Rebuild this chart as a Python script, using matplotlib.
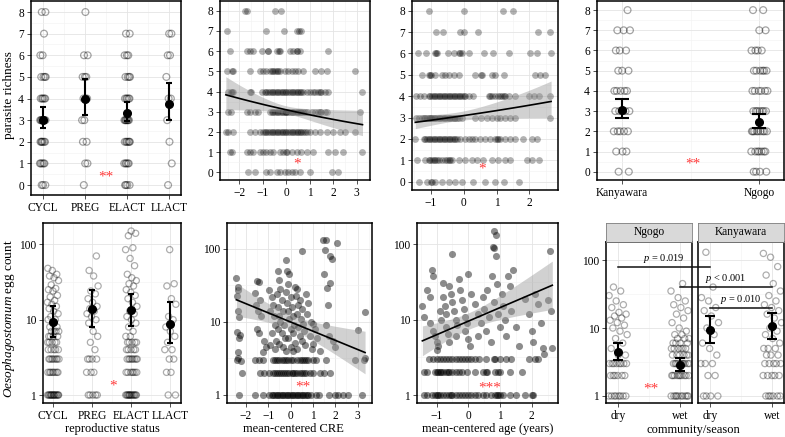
import numpy as np
import matplotlib
matplotlib.use('Agg')
import matplotlib.pyplot as plt
from matplotlib.lines import Line2D
from matplotlib.ticker import NullFormatter

plt.rcParams['font.family'] = ['Liberation Serif', 'DejaVu Serif']
plt.rcParams['mathtext.fontset'] = 'custom'
plt.rcParams['mathtext.rm'] = 'Liberation Serif'
plt.rcParams['mathtext.it'] = 'Liberation Serif:italic'

W, H = 785, 437

# ---------------- data ----------------
rich_levels = [0, 1, 2, 3, 4, 5, 6, 7, 8]
repro_cats = ['CYCL', 'PREG', 'ELACT', 'LLACT']
comm_cats = ['Kanyawara', 'Ngogo']
season_cats = ['dry', 'wet']

# samples at each richness level 0..8
rich_cycl = [3, 5, 6, 8, 5, 4, 2, 1, 2]
rich_preg = [1, 2, 2, 2, 3, 3, 2, 0, 1]
rich_elact = [4, 5, 6, 7, 5, 4, 3, 2, 0]
rich_llact = [1, 1, 1, 1, 2, 1, 2, 2, 0]
rich_kany = [2, 3, 5, 6, 5, 3, 3, 3, 1]
rich_ngogo = [4, 7, 9, 7, 6, 6, 4, 2, 2]

repro_rich_mean = [3.0, 4.0, 3.35, 3.75]
repro_rich_lo = [2.65, 3.25, 2.95, 3.0]
repro_rich_hi = [3.6, 4.9, 3.85, 4.7]
comm_rich_mean = [3.05, 2.45]
comm_rich_lo = [2.64, 2.15]
comm_rich_hi = [3.6, 2.84]

# CRE values of samples, per richness level 0..8
cre_rich = [
    [-1.62, -1.33, -0.84, -0.70, -0.41, -0.27, -0.06, 0.09, 0.23, 0.37, 0.58, 1.01, 1.93, 2.21],
    [-2.40, -2.30, -1.69, -1.55, -1.40, -1.12, -0.98, -0.84, -0.70, -0.55, -0.27, -0.13, 0.01, 0.05,
     0.23, 0.44, 0.65, 0.87, 1.15, 1.79, 2.07, 2.43, 3.21],
    [-2.57, -2.47, -2.26, -1.55, -1.33, -1.12, -0.98, -0.91, -0.84, -0.77, -0.70, -0.62, -0.55, -0.48,
     -0.41, -0.34, -0.27, -0.20, -0.13, -0.06, 0.01, 0.09, 0.16, 0.23, 0.30, 0.37, 0.44, 0.51, 0.58,
     0.65, 0.72, 0.79, 0.87, 1.01, 1.22, 1.43, 1.72, 2.00, 2.28, 2.50, 2.92],
    [-2.47, -2.37, -1.69, -1.55, -1.33, -1.19, -0.70, -0.62, -0.55, -0.48, -0.41, -0.34, -0.27, -0.20,
     -0.13, -0.06, 0.01, 0.01, 0.09, 0.16, 0.23, 0.30, 0.37, 0.44, 0.51, 0.58, 0.65, 0.72, 0.79, 0.87,
     1.08, 1.22, 1.36, 1.43, 1.50, 1.65, 1.72, 3.13],
    [-2.47, -2.37, -2.30, -2.26, -1.55, -1.48, -1.05, -0.91, -0.84, -0.77, -0.70, -0.62, -0.55, -0.48,
     -0.41, -0.34, -0.27, -0.20, -0.13, -0.06, 0.01, 0.09, 0.16, 0.23, 0.30, 0.37, 0.44, 0.51, 0.58,
     0.65, 0.72, 0.87, 1.01, 1.15, 1.22, 1.36, 1.43, 1.50, 1.65, 1.79, 3.25],
    [-2.51, -2.33, -2.26, -1.55, -1.12, -0.98, -0.84, -0.70, -0.62, -0.55, -0.48, -0.41, -0.34, -0.27,
     -0.06, 0.09, 0.23, 0.37, 0.51, 0.72, 1.22, 1.50, 1.72, 2.92],
    [-2.40, -1.69, -1.55, -1.40, -1.05, -0.77, -0.77, -0.38, -0.30, -0.27, 0.16, 0.30, 0.44, 0.47,
     0.58, 1.79],
    [-2.54, -0.88, -0.09, 0.44, 0.54, 0.65],
    [-1.76, -1.66, -0.48, -0.23],
]

# age values of samples, per richness level 0..8
age_rich = [
    [-1.37, -1.11, -0.98, -0.96, -0.86, -0.66, -0.44, -0.25, -0.05, 0.30, 0.64, 0.96, 1.22, 1.69],
    [-1.42, -1.17, -1.06, -1.01, -0.96, -0.91, -0.86, -0.81, -0.76, -0.66, -0.56, -0.51, -0.46, -0.41,
     -0.35, -0.15, 0.05, 0.25, 0.41, 0.58, 0.86, 1.06, 1.27, 1.42, 1.93, 2.08, 2.28],
    [-1.47, -1.22, -1.17, -1.11, -1.06, -1.01, -0.96, -0.91, -0.86, -0.81, -0.76, -0.71, -0.66, -0.61,
     -0.56, -0.51, -0.46, -0.41, -0.35, -0.30, -0.25, -0.20, -0.10, 0.05, 0.15, 0.25, 0.35, 0.51,
     0.66, 0.81, 0.96, 1.01, 1.06, 1.11, 1.27, 1.42, 1.57, 1.82, 2.08, 2.23],
    [-1.45, -1.37, -1.27, -1.22, -1.17, -1.11, -1.06, -1.01, -0.98, -0.96, -0.91, -0.86, -0.81, -0.76,
     -0.71, -0.66, -0.61, -0.56, -0.51, -0.46, -0.41, -0.35, -0.30, -0.25, -0.20, -0.15, -0.05, 0.35,
     0.54, 0.71, 0.86, 1.01, 1.11, 1.27, 1.42, 1.57, 2.63],
    [-1.45, -1.32, -1.19, -1.06, -1.01, -0.96, -0.91, -0.86, -0.81, -0.76, -0.71, -0.66, -0.61, -0.56,
     -0.51, -0.46, -0.41, -0.35, -0.30, -0.25, -0.20, -0.15, -0.10, -0.05, 0.00, 0.05, 0.15, 0.30,
     0.76, 0.81, 0.86, 0.96, 1.06, 1.11, 1.17, 1.22, 1.27, 1.37, 1.57, 1.98, 2.13, 2.30, 2.63],
    [-1.27, -1.06, -1.01, -0.98, -0.88, -0.66, -0.56, -0.46, -0.30, -0.15, 0.35, 0.54, 0.56, 0.86,
     0.96, 1.22, 2.18, 2.33, 2.48],
    [-1.39, -1.14, -0.88, -0.84, -0.81, -0.48, -0.30, -0.15, -0.10, -0.05, 0.17, 0.61, 0.88, 1.37,
     2.03, 2.23, 2.66],
    [-0.84, -0.64, -0.10, 0.00, 0.44, 2.26, 2.63],
    [-1.06, 0.00, 1.19, 1.49],
]

# Oesophagostomum egg counts by reproductive status
egg_cycl = [1, 1, 1, 1, 1, 1, 1, 1, 1, 1, 1, 1, 1, 1, 1, 1, 2, 2, 2, 2, 2, 2, 2, 2,
            3, 3, 3, 3, 3, 3, 3, 3, 4, 4, 4, 4, 4, 5, 5, 5, 5, 5, 6, 6, 6, 6, 7, 7, 7, 7,
            8, 8, 9, 10, 10, 11, 12, 13, 14, 15, 16, 17, 18, 20, 21, 24, 25, 26, 29, 33,
            36, 38, 40, 45, 48]
egg_preg = [1, 1, 1, 1, 1, 2, 2, 2, 3, 3, 3, 3, 4, 5, 6, 7, 9, 10, 11, 12, 13, 14, 15,
            17, 19, 22, 24, 28, 38, 45, 70]
egg_elact = [1, 1, 1, 1, 1, 1, 1, 1, 1, 1, 1, 1, 1, 1, 2, 2, 2, 2, 2, 2, 2, 3, 3, 3, 3,
             3, 3, 3, 3, 4, 4, 4, 4, 4, 5, 5, 5, 5, 5, 6, 6, 7, 8, 9, 10, 11, 12, 13, 15,
             17, 19, 21, 23, 25, 28, 30, 33, 36, 40, 52, 65, 85, 90, 130, 140, 150]
egg_llact = [1, 1, 2, 2, 3, 3, 4, 4, 5, 6, 7, 8, 10, 11, 16, 19, 28, 30, 85]
repro_egg_mean = [9.4, 13.7, 13.3, 8.8]
repro_egg_lo = [5.8, 8.1, 8.3, 4.9]
repro_egg_hi = [15.3, 24.7, 21.9, 17.0]

# egg counts by community and season
egg_ngogo_dry = [1, 1, 1, 1, 1, 1, 1, 1, 2, 2, 2, 2, 2, 2, 3, 3, 3, 3, 3, 3, 3, 3, 4,
                 4, 5, 6, 7, 8, 9, 10, 11, 12, 13, 14, 15, 16, 17, 20, 22, 25, 30, 35, 40]
egg_ngogo_wet = [1, 1, 1, 1, 1, 1, 1, 1, 1, 1, 2, 2, 2, 2, 2, 2, 2, 2, 2, 2, 3, 3, 3, 3,
                 3, 3, 3, 3, 3, 3, 4, 4, 4, 4, 4, 4, 5, 5, 5, 5, 5, 5, 6, 6, 6, 6, 7, 7, 7,
                 8, 8, 9, 10, 12, 14, 16, 18, 20, 22, 25, 28, 35, 45]
egg_kany_dry = [1, 1, 1, 1, 2, 2, 3, 3, 3, 4, 5, 6, 8, 10, 12, 15, 18, 20, 25, 28, 40, 130]
egg_kany_wet = [1, 1, 1, 1, 1, 1, 2, 2, 2, 2, 2, 3, 3, 3, 3, 3, 4, 4, 4, 5, 5, 5, 6, 7,
                8, 9, 10, 12, 14, 16, 18, 20, 22, 25, 30, 35, 45, 60, 80, 110, 125]
season_mean = [[4.5, 2.86], [9.3, 10.7]]
season_lo = [[3.39, 2.33], [5.96, 6.8]]
season_hi = [[6.08, 3.66], [15.2, 16.4]]
pvals = ['= 0.019', '< 0.001', '= 0.010']

# CRE vs egg count
cre_egg_x1 = [-2.30, -1.59, -1.21, -0.98, -0.85, -0.78, -0.70, -0.62, -0.55, -0.48, -0.40, -0.33,
              -0.25, -0.18, -0.10, -0.03, 0.05, 0.12, 0.20, 0.27, 0.35, 0.42, 0.50, 0.57, 0.65,
              0.72, 0.80, 0.91, 1.14, 1.29, 1.74, 1.97, 2.12, 2.35, 2.58, 3.18]
cre_egg_x2 = [-2.15, -1.35, -1.20, -0.98, -0.80, -0.70, -0.60, -0.50, -0.42, -0.35, -0.25, -0.15,
              -0.05, 0.05, 0.12, 0.20, 0.30, 0.40, 0.50, 0.60, 0.70, 0.85, 1.00, 1.30, 1.50, 1.75]
cre_egg_x3 = [-2.40, -1.60, -1.40, -1.25, -0.80, -0.70, -0.60, -0.50, -0.40, -0.30, -0.20, -0.10,
              0.00, 0.10, 0.30, 0.40, 0.50, 0.60, 0.70, 0.80, 1.00, 1.15, 1.60, 2.90, 3.30]
cre_egg_cx = [-2.42, -2.37, -2.33, -2.40, -2.35, -2.30, -2.38, -2.25, -2.30, -2.36, -2.33, -2.22,
              -1.50, -1.40, -1.60, -1.35, -1.55, -1.45, -1.30, -1.50, -1.40, -1.20, -1.10, -1.25,
              -0.95, -0.85, -0.80, -0.90, -0.75, -0.70, -0.85, -0.65, -0.90, -0.70,
              -0.55, -0.50, -0.45, -0.60, -0.40, -0.55, -0.35, -0.50, -0.45, -0.30, -0.55, -0.40,
              -0.25, -0.50, -0.35, -0.20, -0.20, -0.15, -0.05, -0.10, -0.20, 0.00, -0.15, 0.05,
              -0.10, 0.10, -0.05, 0.15, 0.00, 0.10, -0.10, 0.20, 0.00, 0.10, 0.20, 0.30, 0.25,
              0.40, 0.35, 0.50, 0.30, 0.45, 0.55, 0.35, 0.60, 0.40, 0.50, 0.65, 0.30, 0.70, 0.80,
              0.75, 0.90, 1.00, 1.10, 0.85, 1.20, 1.00, 0.95, 1.30, 1.60, 1.70, 1.90, 2.00,
              0.50, 1.44, 1.59, 1.55, 1.78, 1.86, 2.08, 1.48, 1.75, 1.65, 1.66, 3.33, 3.03, 3.33]
cre_egg_cy = [40, 30, 27, 23, 14, 11.8, 7.4, 6.6, 6.0, 3.9, 3.2, 2.9,
              36, 35, 25, 20, 17, 14, 12, 8, 7, 5.5, 4.5, 3.9,
              27, 22, 17, 14, 12, 9, 7, 5.5, 4.8, 4.2,
              50, 38, 28, 24, 20, 16, 14, 12, 10, 9, 8, 7,
              6, 5, 4.5, 4, 70, 50, 45, 33, 26, 22, 18, 16,
              14, 12, 11, 9, 8, 7, 6, 5.2, 4.6, 4, 30, 28, 23,
              20, 17, 15, 13, 11, 9.5, 8.5, 7.5, 6.5, 5.5, 4.8, 4.2, 24, 18,
              13, 10, 9.5, 8, 6.5, 6, 5, 4.2, 4, 9, 6.5, 5.5, 4.5,
              94, 133, 133, 97, 81, 73, 120, 46, 34, 29, 17, 13.5, 7.8, 3.2]

# age vs egg count
age_egg_x1 = [-1.40, -1.30, -1.15, -1.05, -1.00, -0.95, -0.90, -0.80, -0.70, -0.60, -0.55, -0.50,
              -0.40, -0.30, -0.20, -0.10, 0.00, 0.10, 0.20, 0.30, 0.45, 0.55, 0.70, 0.85, 0.90,
              0.95, 1.00, 1.10, 1.30, 1.50, 1.80, 2.00, 2.05]
age_egg_x2 = [-1.40, -1.30, -1.05, -1.00, -0.95, -0.90, -0.85, -0.80, -0.70, -0.65, -0.60, -0.50,
              -0.40, -0.30, -0.20, -0.05, 0.20, 0.45, 0.55, 0.60, 0.85, 0.95, 1.00, 1.30, 1.70]
age_egg_x3 = [-1.25, -1.10, -1.00, -0.90, -0.80, -0.70, -0.60, -0.50, -0.40, -0.30, -0.20, -0.10,
              0.00, 0.10, 0.20, 0.35, 0.55, 0.80, 0.85, 1.00, 1.20, 1.35, 1.90, 2.10, 2.20]
age_egg_cx = [-1.45, -1.40, -1.30, -1.20, -1.15, -1.10, -1.20, -1.10, -1.05, -1.00, -0.95, -1.00,
              -0.90, -0.85, -0.80, -0.80, -0.75, -0.70, -0.70, -0.65, -0.60, -0.60, -0.55, -0.50,
              -0.50, -0.45, -0.40, -0.35, -0.40, -0.30, -0.25, -0.20, -0.15, -0.10, -0.05, -0.10,
              0.00, 0.00, 0.05, 0.10, 0.20, 0.30, 0.30, 0.40, 0.45, 0.50, 0.55, 0.60, 0.65, 0.70,
              0.75, 0.80, 0.82, 0.87, 0.79, 0.82, 0.87, 0.90, 0.95, 1.00, 1.05, 1.10, 1.15, 1.20,
              1.25, 1.30, 1.35, 1.40, 1.50, 1.60, 1.80, 1.90, 2.00, 2.05, 2.10, 2.20, 2.30, 2.35,
              2.40, 2.50, 2.60, 2.59, 2.65]
age_egg_cy = [15, 11, 25, 20, 46, 38, 9, 7, 6, 5, 4.5, 4,
              13, 10, 31, 20, 15, 12, 8, 6.5, 5, 28, 22, 17,
              74, 13, 10, 8.5, 6, 35, 25, 18, 14, 11, 9, 7,
              5.5, 40, 4.5, 22, 16, 12, 6, 9, 20, 14, 7, 25, 11, 5,
              38, 17, 150, 133, 93, 89, 69, 30, 12, 8, 22, 15, 10, 6,
              38, 28, 13, 45, 8, 4.5, 19, 12, 7, 5, 22, 16, 9, 4.2,
              3.5, 18, 13, 81, 4.2]

# fitted models: log(y) = a + b*x, with se of a, b and their covariance
cre_rich_fit = [1.13, -0.0835, 0.031, 0.040, 0.0]
age_rich_fit = [1.128, 0.073, 0.035, 0.038, 0.00037]
cre_egg_fit = [1.0, -0.1257, 0.051, 0.042, 0.0]     # log10
age_egg_fit = [0.98, 0.18, 0.056, 0.058, 0.0]       # log10


# ---------------- helpers ----------------
fig = plt.figure(figsize=(W / 100, H / 100), dpi=100)


def panel(l, t, r, b):
    ax = fig.add_axes([l / W, 1 - b / H, (r - l) / W, (b - t) / H])
    ax.set_axisbelow(True)
    for s in ax.spines.values():
        s.set_linewidth(1.1)
        s.set_color('black')
    ax.tick_params(which='major', length=3, width=0.6, color='#333333',
                   labelsize=8.3, pad=2, labelcolor='black')
    ax.tick_params(which='minor', length=0)
    ax.grid(which='major', color='#E4E4E4', lw=0.6)
    ax.grid(which='minor', color='#F2F2F2', lw=0.4)
    return ax


def spread(n, width):
    # deterministic horizontal jitter offsets
    k = np.arange(n)
    return ((k * 0.618034 + 0.31) % 1 - 0.5) * 2 * width


def richness_axis(ax, ylim):
    ax.set_ylim(*ylim)
    ax.set_yticks(rich_levels)
    ax.set_yticks(np.arange(0.5, 8.5, 1), minor=True)


def log_axis(ax, ylim):
    ax.set_yscale('log')
    ax.set_ylim(*ylim)
    ax.set_yticks([1, 10, 100])
    ax.set_yticklabels(['1', '10', '100'])
    ax.set_yticks([10 ** 0.5, 10 ** 1.5], minor=True)
    ax.yaxis.set_minor_formatter(NullFormatter())


def cat_axis(ax, labels, xlim):
    ax.set_xlim(*xlim)
    ax.set_xticks(range(len(labels)))
    ax.set_xticklabels(labels)
    ax.set_xticks(np.arange(0.5, len(labels) - 1, 1), minor=True)


def cont_axis(ax, ticks, xlim):
    ax.set_xlim(*xlim)
    ax.set_xticks(ticks)
    ax.set_xticklabels([('\u2212%d' % -t) if t < 0 else '%d' % t for t in ticks])
    ax.set_xticks(np.arange(ticks[0] - 0.5, ticks[-1] + 1, 1), minor=True)


def open_strip(ax, pos, values, width, size, alpha):
    v = np.asarray(values, float)
    ax.scatter(pos + spread(len(v), width), v, s=size, facecolors='none',
               edgecolors=(0, 0, 0, alpha), linewidths=0.9, zorder=2)


def mean_ci(ax, pos, mean, lo, hi, cap, ms=5.5):
    mean, lo, hi = np.asarray(mean), np.asarray(lo), np.asarray(hi)
    ax.errorbar(pos, mean, yerr=[mean - lo, hi - mean], fmt='o', color='black',
                ms=ms, capsize=cap, elinewidth=1.5, capthick=1.5, zorder=4)


def fit_band(ax, xs, fit, base):
    a, b, sa, sb, cov = fit
    x = np.linspace(min(xs), max(xs), 120)
    mu = a + b * x
    se = np.sqrt(sa ** 2 + 2 * x * cov + (x * sb) ** 2)
    tr = np.exp if base == 'e' else (lambda z: 10 ** z)
    ax.fill_between(x, tr(mu - 1.96 * se), tr(mu + 1.96 * se), color='#999999',
                    alpha=0.45, lw=0, zorder=3)
    ax.plot(x, tr(mu), color='black', lw=1.2, zorder=4)


def stars(ax, x, y, s):
    ax.text(x, y, s, color='#FF3B3B', fontsize=11, ha='center', va='center', zorder=5)


# ---------------- top row: parasite richness ----------------
ax1 = panel(31, 1, 181, 195)
for i, counts in enumerate([rich_cycl, rich_preg, rich_elact, rich_llact]):
    open_strip(ax1, i, np.repeat(rich_levels, counts), 0.07, 24, 0.36)
mean_ci(ax1, range(4), repro_rich_mean, repro_rich_lo, repro_rich_hi, 2.2)
cat_axis(ax1, repro_cats, (-0.28, 3.28))
richness_axis(ax1, (-0.46, 8.51))
stars(ax1, 1.5, 0.35, '**')

ax2 = panel(220, 1, 370, 180)
for lvl, xs in zip(rich_levels, cre_rich):
    ax2.scatter(xs, np.full(len(xs), lvl), s=24, color='black', alpha=0.3, lw=0, zorder=2)
fit_band(ax2, sum(cre_rich, []), cre_rich_fit, 'e')
cont_axis(ax2, [-2, -1, 0, 1, 2, 3], (-2.82, 3.57))
richness_axis(ax2, (-0.38, 8.48))
stars(ax2, 0.47, 0.4, '*')

ax3 = panel(412, 1, 558, 190)
for lvl, xs in zip(rich_levels, age_rich):
    ax3.scatter(xs, np.full(len(xs), lvl), s=24, color='black', alpha=0.3, lw=0, zorder=2)
fit_band(ax3, sum(age_rich, []), age_rich_fit, 'e')
cont_axis(ax3, [-1, 0, 1, 2], (-1.57, 2.87))
richness_axis(ax3, (-0.39, 8.45))
stars(ax3, 0.57, 0.6, '*')

ax4 = panel(597, 1, 784, 180)
for i, counts in enumerate([rich_kany, rich_ngogo]):
    open_strip(ax4, i, np.repeat(rich_levels, counts), 0.06, 24, 0.36)
mean_ci(ax4, range(2), comm_rich_mean, comm_rich_lo, comm_rich_hi, 5)
cat_axis(ax4, comm_cats, (-0.18, 1.18))
richness_axis(ax4, (-0.41, 8.45))
stars(ax4, 0.52, 0.4, '**')

# ---------------- bottom row: egg counts ----------------
ax5 = panel(43, 223, 181, 403)
for i, vals in enumerate([egg_cycl, egg_preg, egg_elact, egg_llact]):
    open_strip(ax5, i, vals, 0.15, 20, 0.32)
mean_ci(ax5, range(4), repro_egg_mean, repro_egg_lo, repro_egg_hi, 2)
cat_axis(ax5, repro_cats, (-0.26, 3.27))
log_axis(ax5, (10 ** -0.106, 10 ** 2.283))
stars(ax5, 1.53, 1.33, '*')

ax6 = panel(227, 223, 372, 403)
for yv, xs in zip([1, 2, 3], [cre_egg_x1, cre_egg_x2, cre_egg_x3]):
    ax6.scatter(xs, np.full(len(xs), yv), s=26, color='black', alpha=0.45, lw=0, zorder=2)
ax6.scatter(cre_egg_cx, cre_egg_cy, s=26, color='black', alpha=0.45, lw=0, zorder=2)
fit_band(ax6, cre_egg_cx + cre_egg_x1, cre_egg_fit, '10')
cont_axis(ax6, [-2, -1, 0, 1, 2, 3], (-2.84, 3.64))
log_axis(ax6, (10 ** -0.11, 10 ** 2.356))
stars(ax6, 0.57, 1.3, '**')

ax7 = panel(417, 223, 558, 403)
for yv, xs in zip([1, 2, 3], [age_egg_x1, age_egg_x2, age_egg_x3]):
    ax7.scatter(xs, np.full(len(xs), yv), s=26, color='black', alpha=0.45, lw=0, zorder=2)
ax7.scatter(age_egg_cx, age_egg_cy, s=26, color='black', alpha=0.45, lw=0, zorder=2)
fit_band(ax7, age_egg_cx + age_egg_x1, age_egg_fit, '10')
cont_axis(ax7, [-1, 0, 1, 2], (-1.62, 2.83))
log_axis(ax7, (10 ** -0.106, 10 ** 2.283))
stars(ax7, 0.66, 1.22, '***')

facets = []
for j, (name, l, r, data) in enumerate([
        ('Ngogo', 606, 692, [egg_ngogo_dry, egg_ngogo_wet]),
        ('Kanyawara', 698, 784, [egg_kany_dry, egg_kany_wet])]):
    ax = panel(l, 242, r, 403)
    for i, vals in enumerate(data):
        open_strip(ax, i, vals, 0.15, 20, 0.32)
    mean_ci(ax, range(2), season_mean[j], season_lo[j], season_hi[j], 3.5)
    cat_axis(ax, season_cats, (-0.19, 1.19))
    log_axis(ax, (10 ** -0.103, 10 ** 2.265))
    if j == 1:
        ax.tick_params(axis='y', which='both', left=False, labelleft=False)
    st = fig.add_axes([l / W, 1 - 242 / H, (r - l) / W, 19 / H])
    st.set_facecolor('#D9D9D9')
    st.set_xticks([])
    st.set_yticks([])
    for s in st.spines.values():
        s.set_color('#7F7F7F')
        s.set_linewidth(0.6)
    st.text(0.5, 0.5, name, ha='center', va='center', fontsize=8.3, transform=st.transAxes)
    facets.append(ax)
stars(facets[0], 0.53, 1.27, '**')

# p-value brackets spanning the two facets
inv = fig.transFigure.inverted()
brackets = [(facets[0], 0, facets[1], 0, 80), (facets[0], 1, facets[1], 1, 40),
            (facets[1], 0, facets[1], 1, 20)]
for (axa, xa, axb, xb, yv), p in zip(brackets, pvals):
    p0 = inv.transform(axa.transData.transform((xa, yv)))
    p1 = inv.transform(axb.transData.transform((xb, yv)))
    fig.add_artist(Line2D([p0[0], p1[0]], [p0[1], p1[1]], color='#111111', lw=1.1, zorder=6))
    fig.text((p0[0] + p1[0]) / 2, p0[1] + 2 / H, r'$p$ ' + p, ha='center', va='bottom',
             fontsize=7.5)

# ---------------- axis titles ----------------
fig.text(9 / W, 1 - 95 / H, 'parasite richness', rotation=90, ha='center', va='center',
         fontsize=9.5)
fig.text(9 / W, 1 - 319 / H, r'$\mathit{Oesophagostomum}$ egg count', rotation=90,
         ha='center', va='center', fontsize=9.5)
fig.text(112 / W, 1 - 429 / H, 'reproductive status', ha='center', va='center', fontsize=9)
fig.text(293 / W, 1 - 429 / H, 'mean-centered CRE', ha='center', va='center', fontsize=9)
fig.text(488 / W, 1 - 429 / H, 'mean-centered age (years)', ha='center', va='center',
         fontsize=9)
fig.text(693 / W, 1 - 430 / H, 'community/season', ha='center', va='center', fontsize=9)

fig.savefig('out.png', dpi=100)
